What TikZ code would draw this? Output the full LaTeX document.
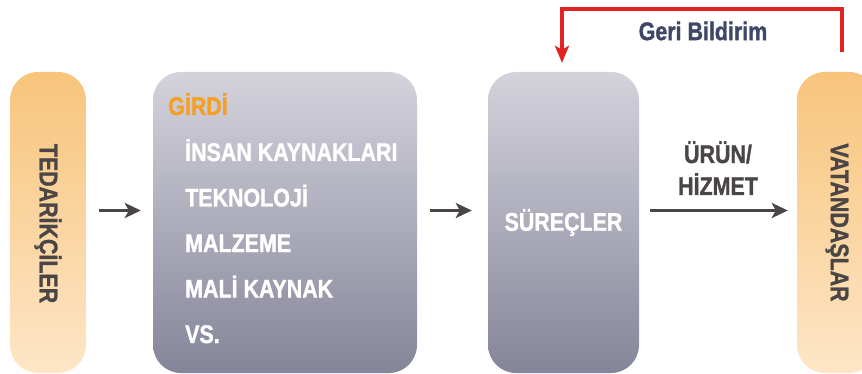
\documentclass[tikz,border=0pt]{standalone}
\usepackage{fontspec}
\setsansfont{Liberation Sans}[FakeStretch=0.84, BoldFeatures={FakeBold=1.2}]
\usepackage{tikz}
\usetikzlibrary{arrows.meta}

\definecolor{orTop}{HTML}{F8C47C}
\definecolor{orBot}{HTML}{FDE6C6}
\definecolor{grTop}{HTML}{D4D3DC}
\definecolor{grBot}{HTML}{85859A}
\definecolor{txtGray}{HTML}{4B4646}
\definecolor{girdiOr}{HTML}{F4A024}
\definecolor{fbRed}{HTML}{E32222}
\definecolor{fbBlue}{HTML}{3F4668}

\tikzset{
    bigtxt/.style={font=\sffamily\bfseries\fontsize{25.5}{29}\selectfont, inner sep=0pt},
    pill/.style={rounded corners=28pt, inner sep=0pt, minimum height=301pt},
    orpill/.style={pill, top color=orTop, bottom color=orBot, text=txtGray, bigtxt},
    grpill/.style={pill, top color=grTop, bottom color=grBot, text=white, bigtxt},
    arr/.style={draw=txtGray, line width=3pt, -{Stealth[length=16pt,width=15pt,inset=4pt]}},
    fb/.style={draw=fbRed, line width=3.3pt, -{Stealth[length=17pt,width=14pt,inset=4pt]}}
}

\begin{document}
\begin{tikzpicture}[x=1pt, y=-1pt]
    \path[use as bounding box, clip] (0,0) rectangle (862,374);
    \def\mid{222.5}
    \def\gap{12}
    % boxes
    \node[orpill, minimum width=76pt] (tedarik) at (48,\mid) {\rotatebox{-90}{\hspace{2pt}TEDARİKÇİLER}};
    \node[grpill, minimum width=264pt] (girdi) at (285,\mid) {};
    \node[grpill, minimum width=151pt] (surec) at (563.5,\mid) {SÜREÇLER};
    \node[orpill, minimum width=80pt] (vatandas) at (837,\mid) {\rotatebox{-90}{VATANDAŞLAR}};
    % girdi list
    \node[bigtxt, text=girdiOr, anchor=base west] (girdibaslik) at (168,115) {GİRDİ};
    \foreach \txt [count=\i] in {İNSAN KAYNAKLARI, TEKNOLOJİ, MALZEME, MALİ KAYNAK, VS.} {
        \node[bigtxt, text=white, anchor=base west] (item\i) at (185,{161+45.5*(\i-1)}) {\txt};
    }
    % flow arrows
    \draw[arr, shorten <=13pt, shorten >=12pt] ([yshift=\gap pt]tedarik.east) -- ([yshift=\gap pt]girdi.west);
    \draw[arr, shorten <=13pt, shorten >=16pt] ([yshift=\gap pt]girdi.east) -- ([yshift=\gap pt]surec.west);
    \draw[arr, shorten <=11pt, shorten >=9pt] ([yshift=\gap pt]surec.east) -- ([yshift=\gap pt]vatandas.west)
        node[midway, above=14pt, bigtxt, text=txtGray, align=center] (urun) {ÜRÜN/\\[3pt]HİZMET};
    % geri bildirim
    \coordinate (fb1) at (842,9);
    \coordinate (fb2) at (562,9);
    \draw[fb] ([xshift=5pt, yshift=20pt]vatandas.north) -- (fb1) -- (fb2) -- ([yshift=9pt]fb2 |- surec.north);
    \node[bigtxt, text=fbBlue] (geri) at (703,31) {Geri Bildirim};
\end{tikzpicture}
\end{document}
